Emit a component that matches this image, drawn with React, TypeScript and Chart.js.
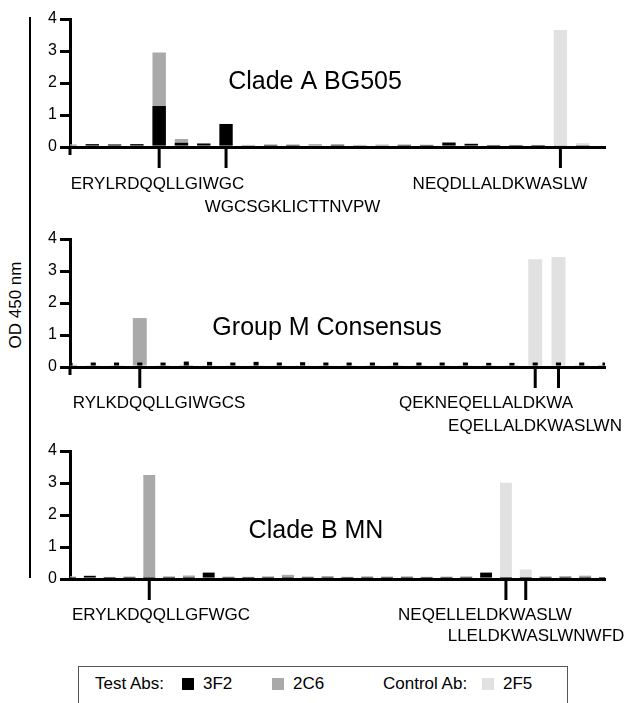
import React, { useEffect, useRef } from "react";
import { Chart, registerables } from "chart.js";

Chart.register(...registerables);

const FONT = '"Liberation Sans", Arial, Helvetica, sans-serif';
Chart.defaults.font.family = FONT;

// ---------- DATA ----------
const seriesNames = ["3F2", "2C6", "2F5"];
const yTicks = [0, 1, 2, 3, 4];

// Panel 1: Clade A BG505 (25 peptides)
const cladeA_3F2 = [0.05, 0.09, 0.08, 0.09, 1.28, 0.13, 0.11, 0.72, 0.05, 0.06, 0.06, 0.05, 0.06, 0.05, 0.05, 0.06, 0.06, 0.14, 0.1, 0.06, 0.06, 0.06, 0.05, 0.04, 0];
const cladeA_2C6 = [0.08, 0.06, 0.06, 0.07, 2.95, 0.25, 0.07, 0.07, 0.06, 0.08, 0.08, 0.09, 0.09, 0.06, 0.07, 0.08, 0.07, 0.07, 0.07, 0.06, 0.06, 0.06, 0.05, 0.06, 0];
const cladeA_2F5 = [0.07, 0.06, 0.06, 0.06, 0.07, 0.06, 0.06, 0.07, 0.07, 0.08, 0.07, 0.08, 0.08, 0.07, 0.08, 0.07, 0.07, 0.07, 0.07, 0.07, 0.07, 0.07, 3.66, 0.12, 0];
const cladeA_peptides = ["ERYLRDQQLLGIWGC", "WGCSGKLICTTNVPW", "NEQDLLALDKWASLW"];
const cladeA_peptideIdx = [4, 7, 22];

// Panel 2: Group M Consensus (24 peptides)
const groupM_3F2 = [0.13, 0.14, 0.14, 0.14, 0.14, 0.17, 0.16, 0.14, 0.16, 0.14, 0.15, 0.14, 0.14, 0.14, 0.14, 0.14, 0.14, 0.14, 0.13, 0.13, 0.14, 0.14, 0.14, 0.14];
const groupM_2C6 = [0.07, 0.05, 0.05, 1.53, 0.05, 0.06, 0.05, 0.05, 0.05, 0.05, 0.05, 0.05, 0.05, 0.05, 0.05, 0.05, 0.05, 0.05, 0.05, 0.05, 0.05, 0.05, 0.05, 0.06];
const groupM_2F5 = [0.06, 0.06, 0.06, 0.06, 0.06, 0.06, 0.06, 0.06, 0.06, 0.06, 0.06, 0.06, 0.06, 0.06, 0.06, 0.06, 0.06, 0.06, 0.06, 0.06, 3.37, 3.44, 0.07, 0.07];
const groupM_peptides = ["RYLKDQQLLGIWGCS", "QEKNEQELLALDKWA", "EQELLALDKWASLWN"];
const groupM_peptideIdx = [3, 20, 21];

// Panel 3: Clade B MN (28 peptides)
const cladeB_3F2 = [0.03, 0.1, 0.02, 0.02, 0.03, 0.03, 0.03, 0.2, 0.02, 0.02, 0.03, 0.03, 0.02, 0.03, 0.02, 0.02, 0.03, 0.02, 0.03, 0.02, 0.03, 0.2, 0.02, 0.03, 0.03, 0.02, 0.02, 0.02];
const cladeB_2C6 = [0.07, 0.06, 0.06, 0.07, 3.25, 0.08, 0.11, 0.07, 0.07, 0.06, 0.08, 0.13, 0.07, 0.09, 0.06, 0.08, 0.07, 0.08, 0.06, 0.07, 0.08, 0.08, 0.06, 0.06, 0.08, 0.09, 0.1, 0.06];
const cladeB_2F5 = [0.08, 0.07, 0.07, 0.09, 0.08, 0.08, 0.09, 0.08, 0.08, 0.08, 0.08, 0.09, 0.09, 0.09, 0.08, 0.08, 0.09, 0.08, 0.08, 0.08, 0.08, 0.07, 3.01, 0.3, 0.08, 0.08, 0.11, 0.06];
const cladeB_peptides = ["ERYLKDQQLLGFWGC", "NEQELLELDKWASLW", "LLELDKWASLWNWFD"];
const cladeB_peptideIdx = [4, 22, 23];

const panelTitles = ["Clade A BG505", "Group M Consensus", "Clade B MN"];

// ---------- STYLE / LAYOUT ----------
const COLORS = ["#000000", "#a9a9a9", "#e1e1e1"];
const W = 627;
const PANEL_H = 220;

type Panel = {
  title: string;
  values: number[][];
  peptides: string[];
  peptideIdx: number[];
  top: number;
  titleX: number;
  titleY: number;
  labelX: number[];
  labelY: number[];
  stub: boolean;
  blackBarPct: number;
};

const panels: Panel[] = [
  {
    title: panelTitles[0],
    values: [cladeA_3F2, cladeA_2C6, cladeA_2F5],
    peptides: cladeA_peptides,
    peptideIdx: cladeA_peptideIdx,
    top: 0,
    titleX: 315,
    titleY: 89,
    labelX: [157.5, 292.5, 500],
    labelY: [189, 212, 189],
    stub: true,
    blackBarPct: 0.6,
  },
  {
    title: panelTitles[1],
    values: [groupM_3F2, groupM_2C6, groupM_2F5],
    peptides: groupM_peptides,
    peptideIdx: groupM_peptideIdx,
    top: 220,
    titleX: 327,
    titleY: 115,
    labelX: [159, 486, 535],
    labelY: [188, 188, 211],
    stub: true,
    blackBarPct: 0.22,
  },
  {
    title: panelTitles[2],
    values: [cladeB_3F2, cladeB_2C6, cladeB_2F5],
    peptides: cladeB_peptides,
    peptideIdx: cladeB_peptideIdx,
    top: 432,
    titleX: 316,
    titleY: 106,
    labelX: [161, 485, 536],
    labelY: [188, 188, 209],
    stub: false,
    blackBarPct: 0.6,
  },
];

function makeAnnotPlugin(p: Panel) {
  return {
    id: "annot",
    afterDraw(chart: any) {
      const { ctx, chartArea, scales } = chart;
      const xs = scales.x;
      ctx.save();
      ctx.strokeStyle = "#000";
      ctx.fillStyle = "#000";
      ctx.lineWidth = 3;
      if (p.stub) {
        ctx.beginPath();
        ctx.moveTo(chartArea.left, chartArea.bottom);
        ctx.lineTo(chartArea.left, chartArea.bottom + 8);
        ctx.stroke();
      }
      p.peptideIdx.forEach((idx) => {
        const px = xs.getPixelForValue(idx);
        ctx.beginPath();
        ctx.moveTo(px, chartArea.bottom);
        ctx.lineTo(px, chartArea.bottom + 21);
        ctx.stroke();
      });
      ctx.font = `17px ${FONT}`;
      ctx.textAlign = "center";
      ctx.textBaseline = "alphabetic";
      p.peptides.forEach((t, i) => ctx.fillText(t, p.labelX[i], p.labelY[i]));
      ctx.font = `25px ${FONT}`;
      ctx.fillText(p.title, p.titleX, p.titleY);
      ctx.restore();
    },
  };
}

function PanelChart({ p }: { p: Panel }) {
  const ref = useRef<HTMLCanvasElement | null>(null);
  useEffect(() => {
    if (!ref.current) return;
    const labels = p.values[0].map((_, i) => String(i + 1));
    const chart = new Chart(ref.current, {
      type: "bar",
      data: {
        labels,
        datasets: seriesNames.map((name, si) => ({
          label: name,
          data: p.values[si],
          backgroundColor: COLORS[si],
          borderWidth: 0,
          grouped: false,
          categoryPercentage: 1,
          barPercentage: si === 0 ? p.blackBarPct : 0.6,
        })),
      },
      options: {
        animation: false,
        responsive: false,
        devicePixelRatio: 1,
        layout: { padding: { left: 0, right: 22, top: 19, bottom: 73 } },
        plugins: { legend: { display: false }, tooltip: { enabled: false }, title: { display: false } },
        scales: {
          x: {
            type: "category",
            offset: false,
            ticks: { display: false },
            grid: { display: false, drawTicks: false },
            border: { display: true, width: 3, color: "#000" },
            afterFit: (s: any) => {
              s.height = 0;
            },
          },
          y: {
            min: yTicks[0],
            max: yTicks[yTicks.length - 1],
            afterBuildTicks: (s: any) => {
              s.ticks = yTicks.map((v) => ({ value: v }));
            },
            ticks: { color: "#000", font: { size: 16, family: FONT }, padding: 3 },
            grid: {
              display: true,
              drawOnChartArea: false,
              drawTicks: true,
              tickLength: 10,
              lineWidth: 3,
              color: "#000",
            },
            border: { display: true, width: 3, color: "#000" },
            afterFit: (s: any) => {
              s.width = 70;
            },
          },
        },
      } as any,
      plugins: [makeAnnotPlugin(p)],
    });
    return () => chart.destroy();
  }, [p]);
  return (
    <canvas
      ref={ref}
      width={W}
      height={PANEL_H}
      style={{ position: "absolute", left: 0, top: p.top, width: W, height: PANEL_H, display: "block" }}
    />
  );
}

const legendText: React.CSSProperties = {
  position: "absolute",
  fontSize: 17,
  lineHeight: "20px",
  top: 674,
  whiteSpace: "nowrap",
  color: "#000",
};

function Swatch({ left, color }: { left: number; color: string }) {
  return <div style={{ position: "absolute", left, top: 678, width: 12, height: 12, background: color }} />;
}

export default function App() {
  return (
    <div
      style={{
        position: "absolute",
        left: 0,
        top: 0,
        width: W,
        height: 703,
        overflow: "hidden",
        background: "#fff",
        fontFamily: FONT,
      }}
    >
      <div style={{ position: "absolute", left: 29, top: 17, width: 2, height: 561, background: "#000" }} />
      <div
        style={{
          position: "absolute",
          left: 16,
          top: 305,
          transform: "translate(-50%, -50%) rotate(-90deg)",
          fontSize: 17,
          whiteSpace: "nowrap",
          color: "#000",
        }}
      >
        OD 450 nm
      </div>
      {panels.map((p, i) => (
        <PanelChart key={i} p={p} />
      ))}
      <div
        style={{
          position: "absolute",
          left: 78,
          top: 666,
          width: 490,
          height: 80,
          border: "1.5px solid #555",
          boxSizing: "border-box",
        }}
      />
      <div style={{ ...legendText, left: 95 }}>Test Abs:</div>
      <Swatch left={182} color={COLORS[0]} />
      <div style={{ ...legendText, left: 203 }}>{seriesNames[0]}</div>
      <Swatch left={272} color={COLORS[1]} />
      <div style={{ ...legendText, left: 293 }}>{seriesNames[1]}</div>
      <div style={{ ...legendText, left: 383 }}>Control Ab:</div>
      <Swatch left={482} color={COLORS[2]} />
      <div style={{ ...legendText, left: 503 }}>{seriesNames[2]}</div>
    </div>
  );
}
